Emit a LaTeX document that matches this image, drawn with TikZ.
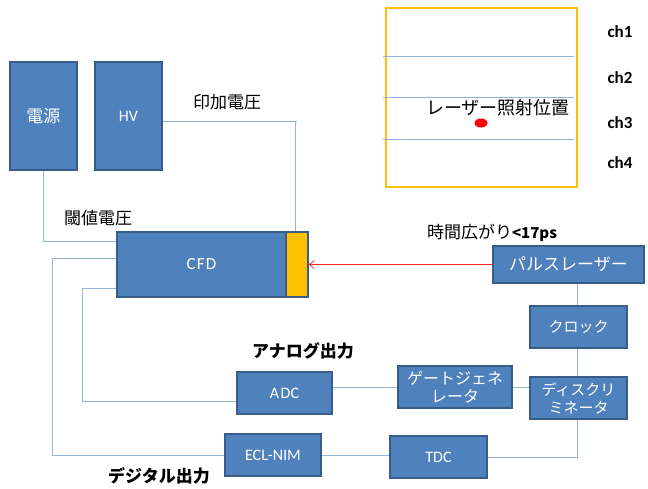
\documentclass[tikz,border=0pt]{standalone}
\usepackage{fontspec}
\setmainfont{Carlito}
\newfontfamily\jp{Noto Sans CJK JP}
\usetikzlibrary{arrows.meta,calc,shapes.geometric}
\definecolor{boxfill}{RGB}{79,129,189}
\definecolor{boxline}{RGB}{56,93,138}
\definecolor{wire}{RGB}{149,179,215}
\definecolor{amber}{RGB}{255,192,0}
\tikzset{
  blk/.style={draw=boxline,line width=1.3pt,fill=boxfill,text=white,inner sep=0pt,anchor=center},
  wirel/.style={draw=wire,line width=0.9pt},
  lbl/.style={text=black,inner sep=0pt,anchor=center},
  jpl/.style={lbl,font=\jp\fontsize{17}{19}\selectfont},
  chl/.style={lbl,font=\bfseries\fontsize{17}{19}\selectfont},
}
\begin{document}
\begin{tikzpicture}[x=1pt,y=-1pt]
\useasboundingbox (0,0) rectangle (648,488);
% coordinates for wire bends
\coordinate (hvc) at (295,121.7);
\coordinate (hvt) at (297,121.7);
\coordinate (o1) at (52,455);
\coordinate (i1) at (82,401);
\coordinate (vx) at (577,0);
% nodes
\node[blk,minimum width=67pt,minimum height=108pt,font=\jp\fontsize{17}{19}\selectfont] (dengen) at (43.5,116) {電源};
\node[blk,minimum width=67pt,minimum height=108pt,font=\fontsize{16}{18}\selectfont] (hv) at (128.5,116) {HV};
\node[blk,minimum width=169pt,minimum height=65pt,font=\fontsize{17}{19}\selectfont] (cfd) at (201.5,264.5) {C\hspace{1.2pt}F\hspace{1.2pt}D};
\node[draw=boxline,line width=1.3pt,fill=amber,minimum width=22pt,minimum height=65pt,inner sep=0pt] (yel) at (297,264.5) {};
\node[blk,minimum width=151pt,minimum height=37pt,font=\jp\fontsize{17}{19}\selectfont] (pulse) at (568.5,264.5) {パルスレーザー};
\node[blk,minimum width=97pt,minimum height=42pt,font=\jp\fontsize{15}{17}\selectfont] (clock) at (578.5,327) {クロック};
\node[blk,minimum width=114pt,minimum height=42pt,align=center,font=\jp\fontsize{16}{18}\selectfont] (gate) at (455,387) {ゲートジェネ\\レータ};
\node[blk,minimum width=97pt,minimum height=42pt,align=center,font=\jp\fontsize{15}{18}\selectfont] (disc) at (578.5,398) {ディスクリ\\ミネータ};
\node[blk,minimum width=95pt,minimum height=42pt,font=\fontsize{16}{18}\selectfont] (adc) at (284.5,393) {A\hspace{1.5pt}DC};
\node[blk,minimum width=96pt,minimum height=42pt,font=\fontsize{16}{18}\selectfont] (ecl) at (273,455) {ECL-NIM};
\node[blk,minimum width=97pt,minimum height=42pt,font=\fontsize{16}{18}\selectfont] (tdc) at (438.5,457) {TDC};
% wires
\draw[wirel] ([yshift=-5.7pt]hv.east) -- (hvt);
\draw[wirel] (hvc) -- (yel.north -| hvc);
\draw[wirel] (dengen.south) |- ([yshift=23.5pt]cfd.west);
\draw[wirel] ([yshift=6.5pt]cfd.west) -| (o1) -- (ecl.west);
\draw[wirel] ([yshift=-23.5pt]cfd.west) -| (i1) -- ([yshift=-8pt]adc.west);
\draw[wirel] (gate.west -| adc.east) -- (gate.west);
\draw[wirel] (gate.east) -- (gate.east -| disc.west);
\draw[wirel] (pulse.south -| vx) -- (clock.north -| vx);
\draw[wirel] (clock.south -| vx) -- (disc.north -| vx);
\draw[wirel] (disc.south -| vx) |- (tdc.east);
\draw[wirel] (ecl.east) -- (ecl.east -| tdc.west);
\draw[red!85!white,line width=0.8pt,-{Straight Barb[length=5pt,width=8pt]}] (pulse.west) -- (yel.east);
% labels
\node[jpl] (l1) at (227,102) {印加電圧};
\node[jpl] (l2) at (98,218) {閾値電圧};
\node[jpl] (l3) at (492,233) {時間広がり{\bfseries\fontsize{15}{17}\selectfont<17ps}};
\node[jpl,font=\jp\bfseries\fontsize{17}{19}\selectfont] (l4) at (303,351) {アナログ出力};
\node[jpl,font=\jp\bfseries\fontsize{17}{19}\selectfont] (l5) at (159,476) {デジタル出力};
% laser position panel
\node[draw=amber,line width=1.6pt,minimum width=191pt,minimum height=179pt,inner sep=0pt] (panel) at (481.5,97.5) {};
\coordinate (pl) at (383,0);
\coordinate (pr) at (574,0);
\draw[wirel] (pl |- 0,56) -- (pr |- 0,56);
\draw[wirel] (pl |- 0,97) -- (pr |- 0,97);
\draw[wirel] (pl |- 0,139) -- (pr |- 0,139);
\node[jpl,font=\jp\fontsize{18}{20}\selectfont] (l6) at (498,108) {レーザー照射位置};
\node[fill=red,ellipse,minimum width=13pt,minimum height=9pt,inner sep=0pt] (dot) at (481,123) {};
\node[chl] (ch1) at (620,32) {ch1};
\node[chl] (ch2) at (620,78) {ch2};
\node[chl] (ch3) at (620,123) {ch3};
\node[chl] (ch4) at (620,163) {ch4};
\end{tikzpicture}
\end{document}
